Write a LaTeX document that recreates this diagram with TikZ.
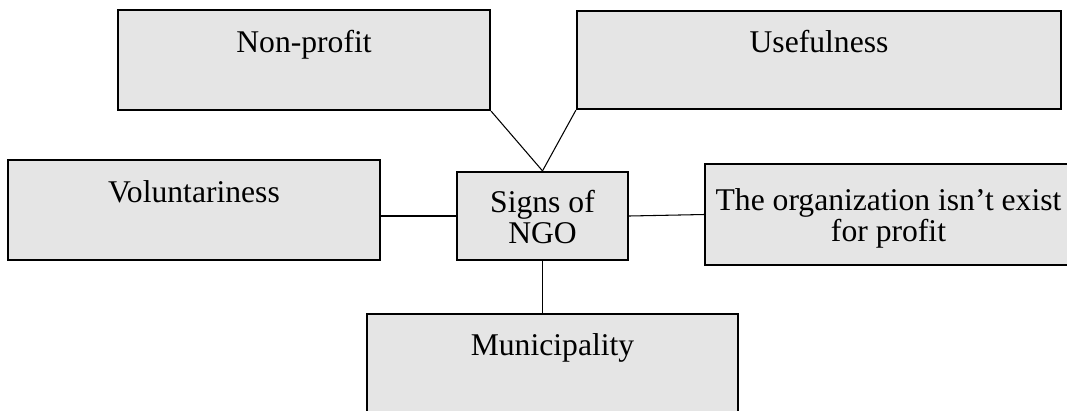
\documentclass[tikz,border=0pt]{standalone}
\usepackage{fontspec}
\setmainfont{Liberation Serif}
\usetikzlibrary{calc}
\definecolor{boxgray}{RGB}{229,229,229}
\tikzset{
	sign/.style={draw, line width=1.3pt, fill=boxgray, inner sep=0pt, align=center, font=\fontsize{18}{17.5}\selectfont},
	link/.style={line width=0.6pt}
}

\begin{document}
\begin{tikzpicture}[x=0.02cm, y=-0.02cm]
			
			\useasboundingbox (0,0) rectangle (1067,410);
			\clip (0,0) rectangle (1067,410);
			
			\node[sign, minimum width=7.44cm, text height=0.84cm, text depth=1.16cm](nonprofit) at (304,60){Non-profit};
			\node[sign, minimum width=9.68cm, text height=0.82cm, text depth=1.14cm](useful) at (819,60){Usefulness};
			
			% two-line boxes: text height counts down to the last line
			\node[sign, minimum width=3.42cm, text height=1.42cm, text depth=0.34cm](signs) at (542.5,216){Signs of\\NGO};
			\node[sign, minimum width=7.44cm, text height=0.84cm, text depth=1.16cm](volunt) at (194,210){Voluntariness};
			\node[sign, minimum width=7.34cm, text height=1.54cm, text depth=0.48cm](org) at (888.5,214.5){The organization isn’t exist\\for profit};
			
			\node[sign, minimum width=7.42cm, text height=0.82cm, text depth=1.18cm](munic) at (552.5,364){Municipality};
			
			\draw[link] (nonprofit.south east) -- (signs.north);
			\draw[link] (useful.south west) -- (signs.north);
			\draw[link] (signs.west) -- (signs.west -| volunt.east);
			\draw[link] (signs.east) -- (org.west);
			\draw[link] (signs.south) -- (signs.south |- munic.north);

		\end{tikzpicture}
\end{document}
